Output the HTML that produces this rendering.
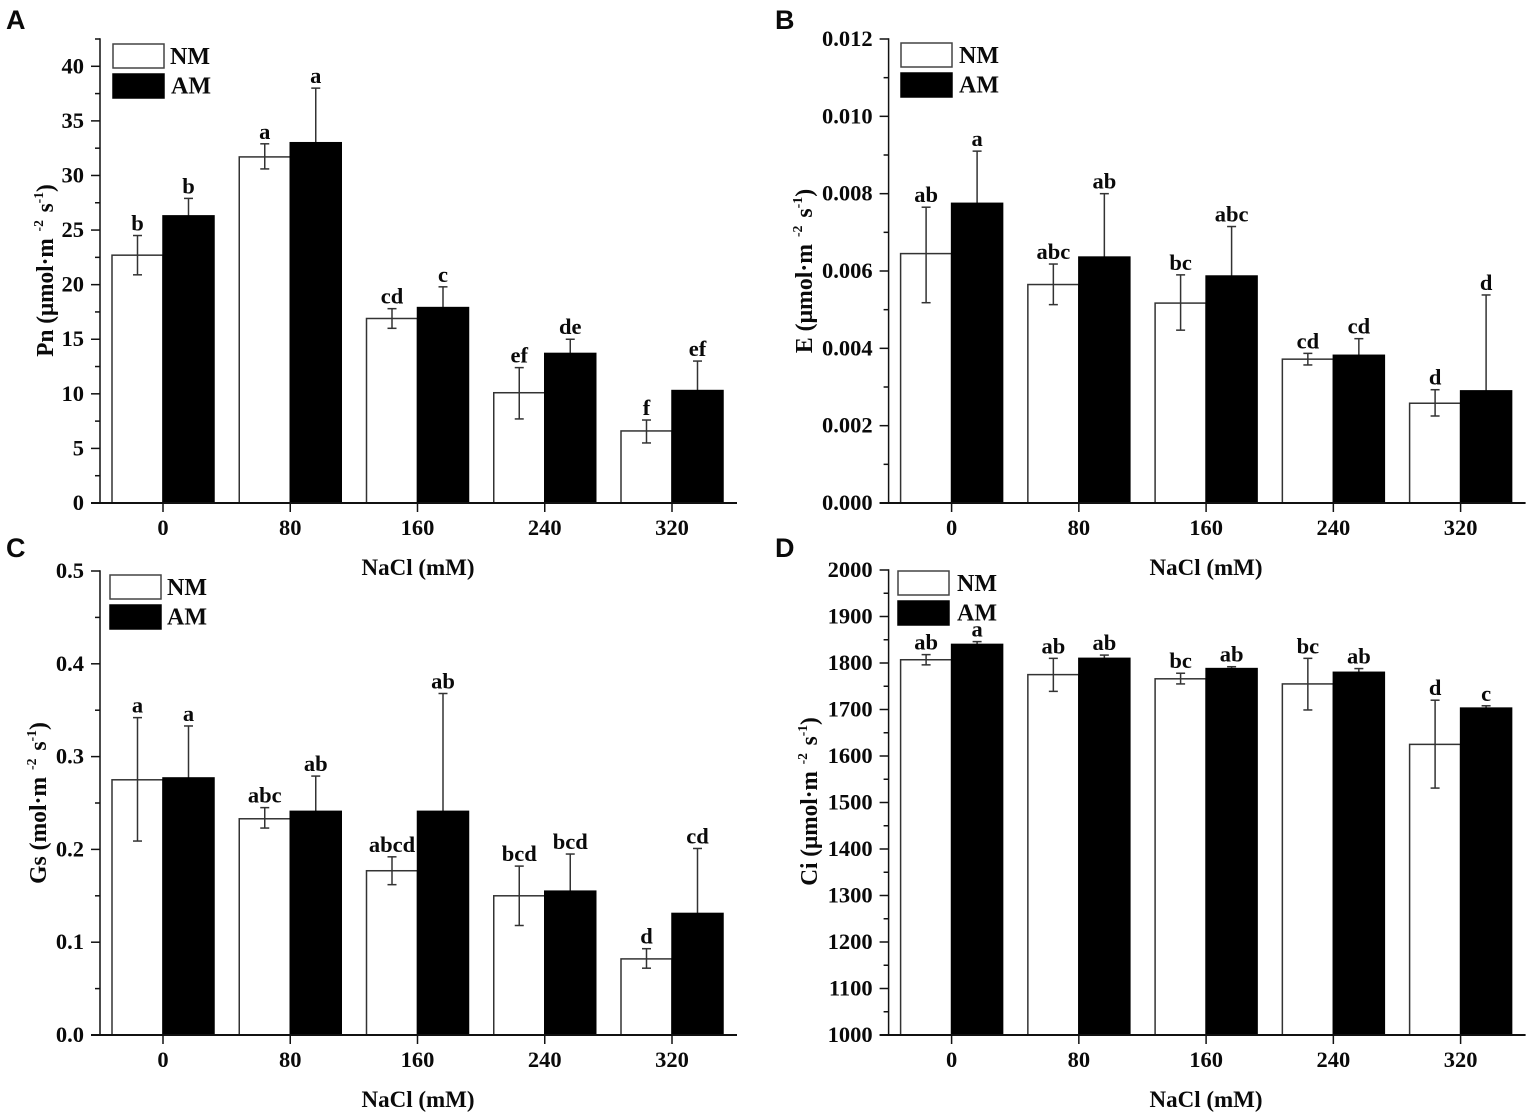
<!DOCTYPE html>
<html lang="en">
<head>
<meta charset="utf-8">
<title>Photosynthesis parameters under NaCl</title>
<style>
html,body{margin:0;padding:0;background:#fff;}
svg{display:block;}
text{font-family:"Liberation Serif",serif;font-weight:bold;fill:#0a0a0a;}
.letter{font-family:"Liberation Sans",sans-serif;font-size:27px;}
.tick{font-size:22.5px;}
.legend{font-size:24px;}
.axis-title{font-size:23px;}
.ytitle{font-size:24px;}
.sig{font-size:22.5px;}
.sup{font-size:14px;}
</style>
</head>
<body>
<svg id="fig" xmlns="http://www.w3.org/2000/svg" width="1535" height="1117" viewBox="0 0 1535 1117">
  <rect width="1535" height="1117" fill="#fff"/>

  <text class="letter" x="6" y="29">A</text>
  <text class="letter" x="775" y="29">B</text>
  <text class="letter" x="6" y="557">C</text>
  <text class="letter" x="775" y="557">D</text>

  <text class="ytitle" text-anchor="middle" transform="translate(53,270.5) rotate(-90) scale(0.97,1)">Pn (μmol·m<tspan class="sup" dx="7" dy="-10">-2</tspan><tspan dx="8" dy="10">s</tspan><tspan class="sup" dy="-10">-1</tspan><tspan dy="10">)</tspan></text>
  <text class="ytitle" text-anchor="middle" transform="translate(812,271) rotate(-90) scale(0.99,1)">E (μmol·m<tspan class="sup" dx="7" dy="-10">-2</tspan><tspan dx="8" dy="10">s</tspan><tspan class="sup" dy="-10">-1</tspan><tspan dy="10">)</tspan></text>
  <text class="ytitle" text-anchor="middle" transform="translate(46,803) rotate(-90) scale(0.985,1)">Gs (mol·m<tspan class="sup" dx="7" dy="-10">-2</tspan><tspan dx="8" dy="10">s</tspan><tspan class="sup" dy="-10">-1</tspan><tspan dy="10">)</tspan></text>
  <text class="ytitle" text-anchor="middle" transform="translate(817,801.5) rotate(-90) scale(0.97,1)">Ci (μmol·m<tspan class="sup" dx="7" dy="-10">-2</tspan><tspan dx="8" dy="10">s</tspan><tspan class="sup" dy="-10">-1</tspan><tspan dy="10">)</tspan></text>

  <text class="axis-title" text-anchor="middle" x="418" y="575">NaCl (mM)</text>
  <text class="axis-title" text-anchor="middle" x="1206" y="575">NaCl (mM)</text>
  <text class="axis-title" text-anchor="middle" x="418" y="1107">NaCl (mM)</text>
  <text class="axis-title" text-anchor="middle" x="1206" y="1107">NaCl (mM)</text>

  <g>
    <rect x="113" y="44" width="51" height="24" fill="#fff" stroke="#444" stroke-width="1.5"/>
    <text class="legend" x="170" y="64">NM</text>
    <rect x="113" y="74" width="51" height="24" fill="#000" stroke="#000" stroke-width="1.5"/>
    <text class="legend" x="171" y="93.5">AM</text>
  </g>
  <g>
    <rect x="901" y="43" width="51" height="24" fill="#fff" stroke="#444" stroke-width="1.5"/>
    <text class="legend" x="959" y="63">NM</text>
    <rect x="901" y="73" width="51" height="24" fill="#000" stroke="#000" stroke-width="1.5"/>
    <text class="legend" x="959" y="92.5">AM</text>
  </g>
  <g>
    <rect x="110" y="575" width="51" height="24" fill="#fff" stroke="#444" stroke-width="1.5"/>
    <text class="legend" x="167" y="595">NM</text>
    <rect x="110" y="605" width="51" height="24" fill="#000" stroke="#000" stroke-width="1.5"/>
    <text class="legend" x="167" y="624.5">AM</text>
  </g>
  <g>
    <rect x="898" y="571" width="51" height="24" fill="#fff" stroke="#444" stroke-width="1.5"/>
    <text class="legend" x="957" y="591">NM</text>
    <rect x="898" y="601" width="51" height="24" fill="#000" stroke="#000" stroke-width="1.5"/>
    <text class="legend" x="957" y="620.5">AM</text>
  </g>
</svg>
<script>
// Shared categories
var categories = ['0', '80', '160', '240', '320'];

// Panel A: Pn
var pnTicks = ['0', '5', '10', '15', '20', '25', '30', '35', '40'];
var pnNm = [22.7, 31.7, 16.9, 10.1, 6.6];
var pnNmHigh = [24.5, 32.9, 17.8, 12.4, 7.6];
var pnNmLow = [20.9, 30.6, 16.0, 7.7, 5.5];
var pnAm = [26.3, 33.0, 17.9, 13.7, 10.3];
var pnAmHigh = [27.9, 38.0, 19.8, 15.0, 13.0];
var pnNmSig = ['b', 'a', 'cd', 'ef', 'f'];
var pnAmSig = ['b', 'a', 'c', 'de', 'ef'];

// Panel B: E
var eTicks = ['0.000', '0.002', '0.004', '0.006', '0.008', '0.010', '0.012'];
var eNm = [0.00645, 0.00565, 0.00517, 0.00372, 0.00258];
var eNmHigh = [0.00765, 0.00618, 0.00590, 0.00387, 0.00293];
var eNmLow = [0.00518, 0.00513, 0.00447, 0.00357, 0.00225];
var eAm = [0.00775, 0.00636, 0.00587, 0.00382, 0.00290];
var eAmHigh = [0.00910, 0.00800, 0.00715, 0.00425, 0.00538];
var eNmSig = ['ab', 'abc', 'bc', 'cd', 'd'];
var eAmSig = ['a', 'ab', 'abc', 'cd', 'd'];

// Panel C: Gs
var gsTicks = ['0.0', '0.1', '0.2', '0.3', '0.4', '0.5'];
var gsNm = [0.275, 0.233, 0.177, 0.150, 0.082];
var gsNmHigh = [0.342, 0.245, 0.192, 0.182, 0.093];
var gsNmLow = [0.209, 0.223, 0.162, 0.118, 0.072];
var gsAm = [0.277, 0.241, 0.241, 0.155, 0.131];
var gsAmHigh = [0.333, 0.279, 0.368, 0.195, 0.201];
var gsNmSig = ['a', 'abc', 'abcd', 'bcd', 'd'];
var gsAmSig = ['a', 'ab', 'ab', 'bcd', 'cd'];

// Panel D: Ci
var ciTicks = ['1000', '1100', '1200', '1300', '1400', '1500', '1600', '1700', '1800', '1900', '2000'];
var ciNm = [1807, 1775, 1766, 1755, 1625];
var ciNmHigh = [1818, 1810, 1778, 1810, 1720];
var ciNmLow = [1796, 1739, 1755, 1699, 1531];
var ciAm = [1840, 1810, 1788, 1780, 1703];
var ciAmHigh = [1846, 1817, 1792, 1788, 1708];
var ciNmSig = ['ab', 'ab', 'bc', 'bc', 'd'];
var ciAmSig = ['a', 'ab', 'ab', 'ab', 'c'];

var SVG_NS = 'http://www.w3.org/2000/svg';
var fig = document.getElementById('fig');
var AXIS_COLOR = '#111';
var ERR_COLOR = '#333';

function make(tag, parent, attrs, text) {
  var el = document.createElementNS(SVG_NS, tag);
  for (var k in attrs) { el.setAttribute(k, attrs[k]); }
  if (text !== undefined) { el.textContent = text; }
  parent.appendChild(el);
  return el;
}

function drawLine(parent, x1, y1, x2, y2, color, width, name) {
  var el = make('line', parent, { x1: x1, y1: y1, x2: x2, y2: y2, stroke: color, 'stroke-width': width });
  
  
  return el;
}

function drawPanel(id, ticks, axisMax, nm, nmHigh, nmLow, am, amHigh, nmSig, amSig, left, top, bottom) {
  var g = make('g', fig, {});
  
  

  var tickValues = ticks.map(Number);
  var yMin = tickValues[0];
  var step = tickValues[1] - tickValues[0];
  var yScale = function (v) { return bottom - (v - yMin) / (axisMax - yMin) * (bottom - top); };
  var firstCat = left + 63;
  var catStep = 127.25;
  var barW = 51;
  var xScale = function (i) { return firstCat + catStep * i; };

  // Bars first so axes overlay them
  categories.forEach(function (cat, i) {
    var cx = xScale(i);
    var nmTop = yScale(nm[i]);
    var amTop = yScale(am[i]);
    var nmCx = cx - barW / 2;
    var amCx = cx + barW / 2;

    var nmBar = make('rect', g, { x: cx - barW, y: nmTop, width: barW, height: bottom - nmTop, fill: '#fff', stroke: '#333', 'stroke-width': 1.5 });
    
    

    drawLine(g, nmCx, yScale(nmHigh[i]), nmCx, yScale(nmLow[i]), ERR_COLOR, 1.5, 'error-bar-nm-' + cat);
    drawLine(g, nmCx - 4.5, yScale(nmHigh[i]), nmCx + 4.5, yScale(nmHigh[i]), ERR_COLOR, 1.5, 'error-cap-high-nm-' + cat);
    drawLine(g, nmCx - 4.5, yScale(nmLow[i]), nmCx + 4.5, yScale(nmLow[i]), ERR_COLOR, 1.5, 'error-cap-low-nm-' + cat);

    drawLine(g, amCx, yScale(amHigh[i]), amCx, amTop, ERR_COLOR, 1.5, 'error-bar-am-' + cat);
    drawLine(g, amCx - 4.5, yScale(amHigh[i]), amCx + 4.5, yScale(amHigh[i]), ERR_COLOR, 1.5, 'error-cap-high-am-' + cat);

    var amBar = make('rect', g, { x: cx, y: amTop, width: barW, height: bottom - amTop, fill: '#000', stroke: '#000', 'stroke-width': 1.5 });
    
    

    var nmLabel = make('text', g, { class: 'sig', x: nmCx, y: yScale(nmHigh[i]) - 5, 'text-anchor': 'middle' }, nmSig[i]);
    
    

    var amLabel = make('text', g, { class: 'sig', x: amCx, y: yScale(amHigh[i]) - 5, 'text-anchor': 'middle' }, amSig[i]);
    
    

    drawLine(g, cx, bottom, cx, bottom + 9, AXIS_COLOR, 1.5, 'x-tick-' + cat);

    var xLabel = make('text', g, { class: 'tick', x: cx, y: bottom + 32, 'text-anchor': 'middle' }, cat);
    
    
  });

  // Axes
  drawLine(g, left, top - 0.75, left, bottom + 0.75, AXIS_COLOR, 1.5, 'y-axis-line');
  drawLine(g, left - 9, bottom, left + 637, bottom, AXIS_COLOR, 2, 'x-axis-line');

  // Y ticks and labels
  ticks.forEach(function (label, i) {
    var v = tickValues[i];
    var y = yScale(v);
    drawLine(g, left - 9, y, left, y, AXIS_COLOR, 1.5, 'y-tick-' + label);
    var t = make('text', g, { class: 'tick', x: left - 16, y: y + 7, 'text-anchor': 'end' }, label);
    
    
    var mid = v + step / 2;
    if (mid <= axisMax + step * 0.01) {
      drawLine(g, left - 5, yScale(mid), left, yScale(mid), AXIS_COLOR, 1.5, 'y-minor-tick');
    }
  });
}

drawPanel('a', pnTicks, 42.5, pnNm, pnNmHigh, pnNmLow, pnAm, pnAmHigh, pnNmSig, pnAmSig, 100, 39, 503);
drawPanel('b', eTicks, 0.012, eNm, eNmHigh, eNmLow, eAm, eAmHigh, eNmSig, eAmSig, 888.6, 39, 503);
drawPanel('c', gsTicks, 0.5, gsNm, gsNmHigh, gsNmLow, gsAm, gsAmHigh, gsNmSig, gsAmSig, 100, 571, 1035);
drawPanel('d', ciTicks, 2000, ciNm, ciNmHigh, ciNmLow, ciAm, ciAmHigh, ciNmSig, ciAmSig, 888.6, 570, 1035);
</script>
</body>
</html>
